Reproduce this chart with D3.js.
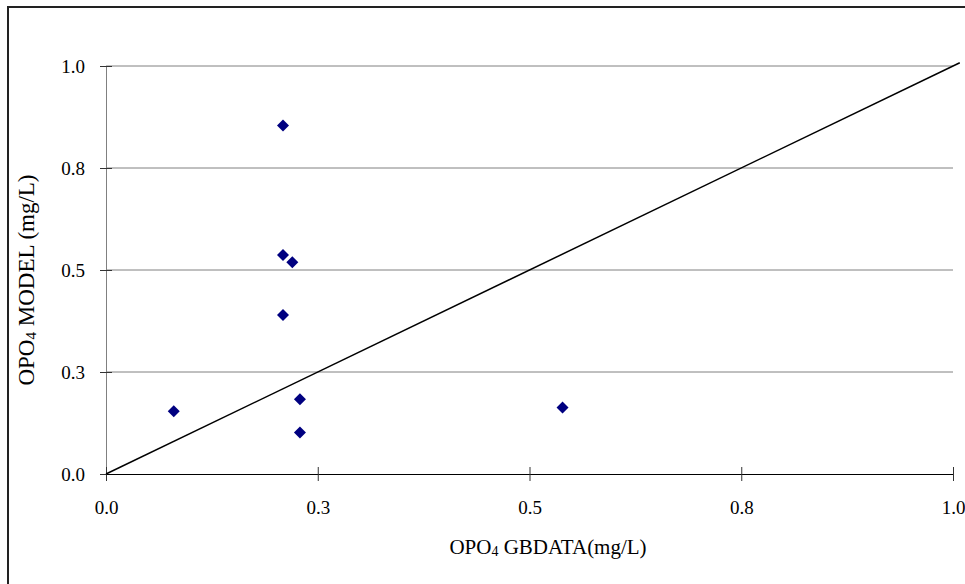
<!DOCTYPE html>
<html>
<head>
<meta charset="utf-8">
<script src="https://cdn.jsdelivr.net/npm/d3@7"></script>
<style>
  body { margin: 0; background: #fff; }
  text { font-family: "Liberation Serif", "Times New Roman", serif; }
</style>
</head>
<body>
<div id="chart"></div>
<script>
// observed GBDATA vs model values (mg/L)
var gbdata = [0.080, 0.209, 0.209, 0.220, 0.209, 0.229, 0.229, 0.539];
var model  = [0.154, 0.854, 0.537, 0.519, 0.390, 0.183, 0.102, 0.163];
var lineX = [0, 1.008];
var lineY = [0, 1.008];
var ticks = [0, 0.25, 0.5, 0.75, 1.0];

var W = 965, H = 584;
var margin = {top: 66, right: 12, bottom: 110, left: 106};
var width = 953 - margin.left, height = 474 - margin.top;

var svg = d3.select('#chart').append('svg')
  .attr('width', W).attr('height', H);

// outer frame (right/bottom edges fall outside the view)
svg.append('rect')
  .attr('x', 8).attr('y', 7)
  .attr('width', W + 20).attr('height', H + 20)
  .attr('fill', 'none').attr('stroke', '#222').attr('stroke-width', 2);

var g = svg.append('g')
  .attr('transform', 'translate(' + margin.left + ',' + margin.top + ')');

var x = d3.scaleLinear().domain([0, 1]).range([0, width]);
var y = d3.scaleLinear().domain([0, 1]).range([height, 0]);
var fmt = d3.format('.1f');

// gridlines
g.selectAll('.grid').data(ticks.slice(1)).enter().append('line')
  .attr('x1', 0).attr('x2', width)
  .attr('y1', function(d){ return y(d); }).attr('y2', function(d){ return y(d); })
  .attr('stroke', '#808080').attr('stroke-width', 1);

// y axis
var ya = g.append('g')
  .call(d3.axisLeft(y).tickValues(ticks).tickFormat(fmt).tickSize(6).tickPadding(15));
ya.select('.domain').attr('stroke', '#808080');
ya.selectAll('.tick line').attr('x2', 6).attr('x1', -6).attr('stroke', '#333');
ya.selectAll('text').attr('font-size', 19).attr('fill', '#000')
  .attr('font-family', '"Liberation Serif", serif');

// x axis
var xa = g.append('g')
  .attr('transform', 'translate(0,' + height + ')')
  .call(d3.axisBottom(x).tickValues(ticks).tickFormat(fmt).tickSize(7).tickPadding(20));
xa.select('.domain').attr('stroke', '#000');
xa.selectAll('.tick line').attr('y1', -7).attr('y2', 7).attr('stroke', '#333');
xa.selectAll('text').attr('font-size', 19).attr('fill', '#000')
  .attr('font-family', '"Liberation Serif", serif');

// 1:1 line
g.append('path')
  .datum(d3.zip(lineX, lineY))
  .attr('fill', 'none').attr('stroke', '#000').attr('stroke-width', 1.5)
  .attr('d', d3.line().x(function(d){ return x(d[0]); }).y(function(d){ return y(d[1]); }));

// points
var diamond = d3.symbol().type(d3.symbolSquare).size(72);
g.selectAll('.pt').data(d3.zip(gbdata, model)).enter().append('path')
  .attr('d', diamond)
  .attr('transform', function(d){ return 'translate(' + x(d[0]) + ',' + y(d[1]) + ') rotate(45)'; })
  .attr('fill', '#000080');

// axis titles
var xt = svg.append('text')
  .attr('x', 548).attr('y', 554)
  .attr('text-anchor', 'middle').attr('font-size', 21);
xt.append('tspan').text('OPO');
xt.append('tspan').text('4').attr('font-size', 14).attr('dy', 2);
xt.append('tspan').text(' GBDATA(mg/L)').attr('dy', -2);

var yt = svg.append('text')
  .attr('transform', 'translate(34,280) rotate(-90)')
  .attr('text-anchor', 'middle').attr('font-size', 23);
yt.append('tspan').text('OPO');
yt.append('tspan').text('4').attr('font-size', 15).attr('dy', 2);
yt.append('tspan').text(' MODEL (mg/L)').attr('dy', -2);
</script>
</body>
</html>
